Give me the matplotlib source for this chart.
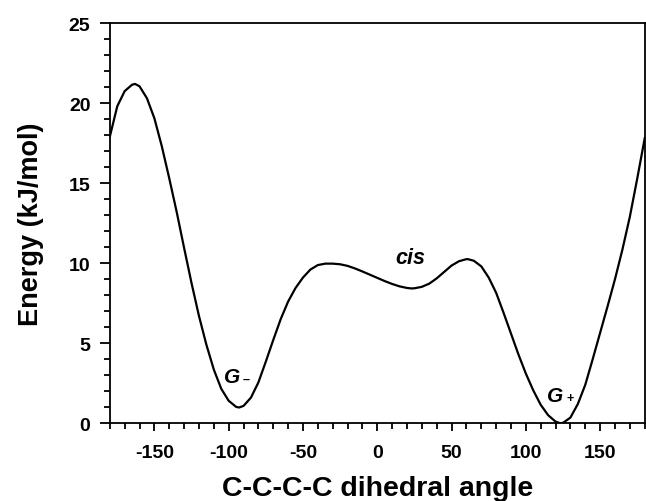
import matplotlib
matplotlib.use('Agg')
from matplotlib import pyplot as plt
from matplotlib.ticker import MultipleLocator

# dihedral angle (deg) and relative energy (kJ/mol)
angle = [-180, -175, -170, -165, -163, -160, -155, -150, -145, -140,
         -135, -130, -125, -120, -115, -110, -105, -100, -95, -93,
         -90, -85, -80, -75, -70, -65, -60, -55, -50, -45,
         -40, -35, -30, -25, -20, -15, -10, -5, 0, 5,
         10, 15, 20, 23, 25, 30, 35, 40, 45, 50,
         55, 60, 61, 65, 70, 75, 80, 85, 90, 95,
         100, 105, 110, 115, 120, 123, 125, 130, 135, 140,
         145, 150, 155, 160, 165, 170, 175, 180]
energy = [17.9, 19.8, 20.75, 21.15, 21.2, 21.05, 20.3, 19.05, 17.3, 15.3,
          13.2, 10.95, 8.75, 6.7, 4.9, 3.35, 2.15, 1.4, 1.02, 0.98,
          1.08, 1.6, 2.55, 3.85, 5.2, 6.5, 7.6, 8.45, 9.1, 9.6,
          9.88, 9.97, 9.97, 9.93, 9.83, 9.67, 9.48, 9.28, 9.08, 8.88,
          8.7, 8.55, 8.45, 8.42, 8.43, 8.52, 8.72, 9.05, 9.45, 9.85,
          10.12, 10.25, 10.25, 10.15, 9.8, 9.1, 8.15, 6.9, 5.6, 4.3,
          3.1, 2.05, 1.15, 0.5, 0.1, 0.0, 0.02, 0.35, 1.2, 2.4,
          4.0, 5.65, 7.3, 9.0, 10.85, 12.9, 15.3, 17.8]

plt.rcParams['font.family'] = 'Liberation Sans'
plt.rcParams['font.weight'] = 'bold'
plt.rcParams['axes.unicode_minus'] = False

fig = plt.figure(figsize=(6.46, 5.02), dpi=100)
ax = fig.add_axes([0.170, 0.155, 0.828, 0.797])
ax.plot(angle, energy, color='black', linewidth=1.6, solid_joinstyle='round')

ax.set_xlim(-180, 180)
ax.set_ylim(0, 25)
ax.xaxis.set_major_locator(MultipleLocator(50))
ax.xaxis.set_minor_locator(MultipleLocator(10))
ax.yaxis.set_major_locator(MultipleLocator(5))
ax.yaxis.set_minor_locator(MultipleLocator(1))
ax.tick_params(axis='x', which='major', direction='out', length=6, width=1.3, pad=9, labelsize=14)
ax.tick_params(axis='x', which='minor', direction='out', length=4, width=1.3)
ax.tick_params(axis='y', which='major', direction='out', length=7, width=1.3, pad=7, labelsize=14)
ax.tick_params(axis='y', which='minor', direction='out', length=4.5, width=1.3)
for s in ax.spines.values():
    s.set_linewidth(1.3)

ax.set_xlabel('C-C-C-C dihedral angle', fontsize=20.5, fontweight='bold', labelpad=10)
ax.set_ylabel('Energy (kJ/mol)', fontsize=19.5, fontweight='bold', labelpad=18)

# state labels
ax.text(-97.5, 2.9, 'G', style='italic', fontsize=15, ha='center', va='center')
ax.text(-88, 2.75, '\u2013', fontsize=9, ha='center', va='center')
ax.text(120, 1.75, 'G', style='italic', fontsize=15, ha='center', va='center')
ax.text(130, 1.6, '+', fontsize=9, ha='center', va='center')
ax.text(22, 10.35, 'cis', style='italic', fontsize=15.5, ha='center', va='center')

fig.savefig('out.png', dpi=100)
